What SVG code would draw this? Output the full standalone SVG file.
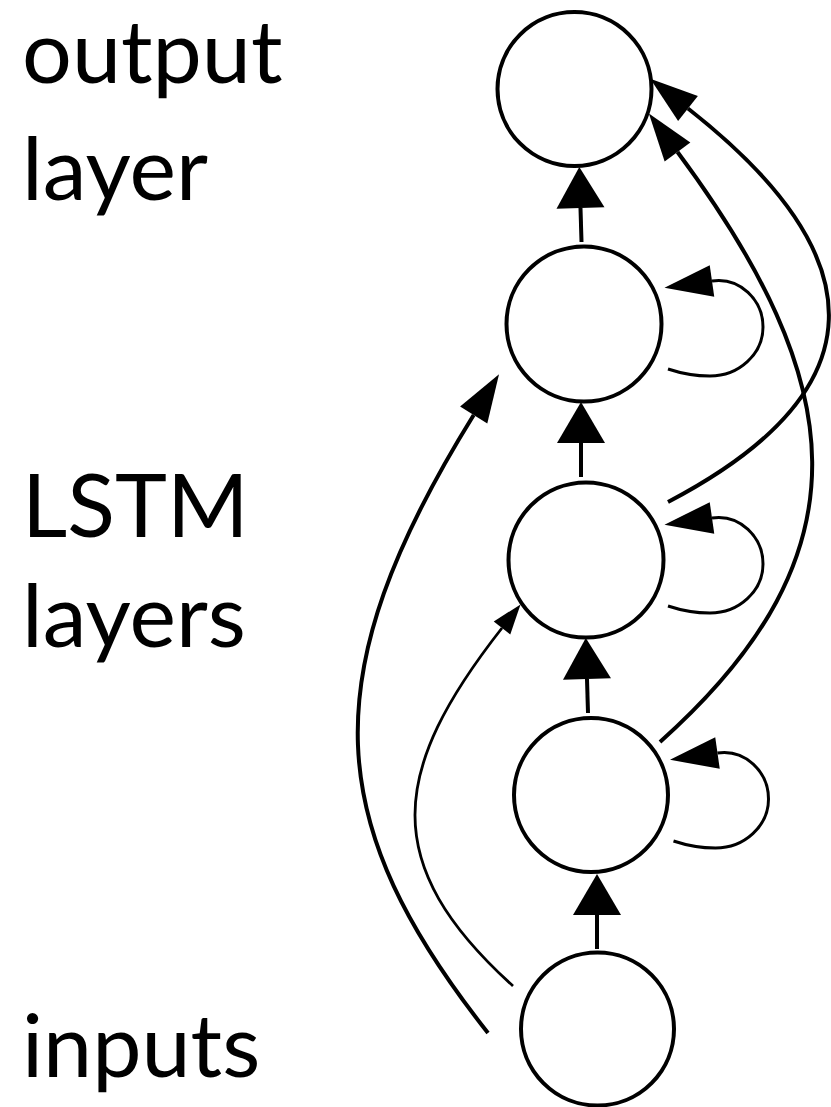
<svg xmlns="http://www.w3.org/2000/svg" width="831" height="1107" viewBox="0 0 831 1107">
<style>
.node{fill:#fff;stroke:#000;stroke-width:4}
.lbl{font-family:"Lato","Open Sans","Liberation Sans",sans-serif;font-size:88px;fill:#000}
.e{fill:none;stroke:#000;stroke-width:4}
.thin{fill:none;stroke:#000;stroke-width:2.8}
.loop{fill:none;stroke:#000;stroke-width:3}
</style>
<defs>
<marker id="ahV" viewBox="0 0 41 48" refX="0" refY="24" markerWidth="41" markerHeight="48" markerUnits="userSpaceOnUse" orient="auto" overflow="visible"><path d="M0,0 L41,24 L0,48 Z" fill="#000"/></marker>
<marker id="ahC" viewBox="0 0 48 32" refX="0" refY="16" markerWidth="48" markerHeight="32" markerUnits="userSpaceOnUse" orient="auto" overflow="visible"><path d="M0,0 L48,16 L0,32 Z" fill="#000"/></marker>
<marker id="ahS" viewBox="0 0 30 21" refX="0" refY="10.5" markerWidth="30" markerHeight="21" markerUnits="userSpaceOnUse" orient="auto" overflow="visible"><path d="M0,0 L30,10.5 L0,21 Z" fill="#000"/></marker>
<path id="loopShape" d="M668,369 C680,373 695,376 710,376 C739,376 763,354 763,327 C763,300 740,277 712,281"/>
</defs>
<g id="labels">
<text class="lbl" x="22" y="83">output</text>
<text class="lbl" x="22" y="200">layer</text>
<text class="lbl" x="22" y="537">LSTM</text>
<text class="lbl" x="22" y="647">layers</text>
<text class="lbl" x="22" y="1077">inputs</text>
</g>
<g id="connectors">
<line class="e" x1="597" y1="949" x2="597" y2="915" marker-end="url(#ahV)"/>
<line class="e" x1="588" y1="713" x2="587" y2="679" marker-end="url(#ahV)"/>
<line class="e" x1="581" y1="477" x2="581" y2="443" marker-end="url(#ahV)"/>
<line class="e" x1="581.5" y1="242" x2="580.5" y2="208" marker-end="url(#ahV)"/>
<path class="e" d="M668,502 C880.6,390.6 877.6,257.3 688,108.5" marker-end="url(#ahC)"/>
<path class="e" d="M660,742 C872.6,552.2 847.4,380.9 677.5,152" marker-end="url(#ahC)"/>
<path class="e" d="M488,1033 C324.2,825 309.8,679 473.7,415" marker-end="url(#ahC)"/>
<path class="thin" d="M513,986 C378.5,864.3 389.8,771 502,628" marker-end="url(#ahS)"/>
<path class="loop" d="M668,369 C680,373 695,376 710,376 C739,376 763,354 763,327 C763,300 740,277 712,281" marker-end="url(#ahC)"/>
<path class="loop" transform="translate(0,237)" d="M668,369 C680,373 695,376 710,376 C739,376 763,354 763,327 C763,300 740,277 712,281" marker-end="url(#ahC)"/>
<path class="loop" transform="translate(5.5,472)" d="M668,369 C680,373 695,376 710,376 C739,376 763,354 763,327 C763,300 740,277 712,281" marker-end="url(#ahC)"/>
</g>
<g id="node-output"><circle class="node" cx="574.5" cy="89" r="77"/></g>
<g id="node-lstm3"><circle class="node" cx="584" cy="324" r="77.5"/></g>
<g id="node-lstm2"><circle class="node" cx="586" cy="560" r="77.5"/></g>
<g id="node-lstm1"><circle class="node" cx="591" cy="795" r="77"/></g>
<g id="node-input"><circle class="node" cx="597.5" cy="1029" r="76.5"/></g>
</svg>
